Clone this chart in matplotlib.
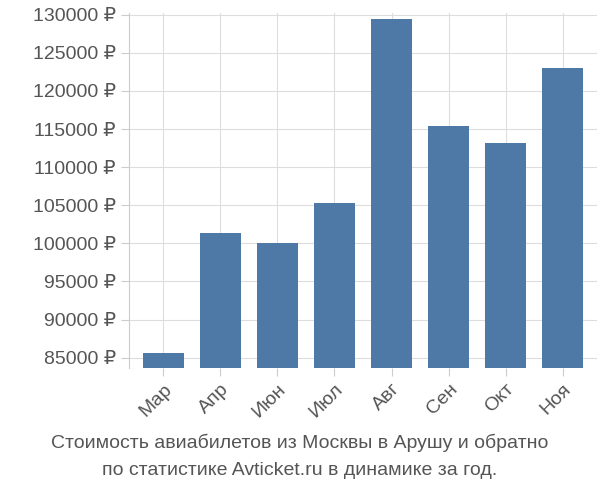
import matplotlib
matplotlib.use("Agg")
import matplotlib.pyplot as plt

months = ["Мар", "Апр", "Июн", "Июл", "Авг", "Сен", "Окт", "Ноя"]
prices = [85650, 101400, 100100, 105300, 129400, 115400, 113200, 123000]
yticks = list(range(85000, 130001, 5000))

plt.rcParams['font.family'] = ['Liberation Sans', 'DejaVu Sans']
fig = plt.figure(figsize=(6, 5), dpi=100)
ax = fig.add_axes([0.215, 0.265, 0.78, 0.71])
ax.bar(range(len(months)), prices, width=0.72, color="#4e79a7", zorder=2)
ax.set_ylim(83700, 130300)
ax.set_xlim(-0.6, len(months) - 0.4)
ax.set_yticks(yticks)
ax.set_yticklabels([f"{v} ₽" for v in yticks], fontsize=14, color="#555555")
ax.set_xticks(range(len(months)))
ax.set_xticklabels(months, rotation=45, ha="right", rotation_mode="anchor", fontsize=14, color="#555555")
ax.grid(True, color="#dddddd", zorder=0)
for s in ["top", "right", "bottom"]:
    ax.spines[s].set_visible(False)
ax.spines["left"].set_color("#cccccc")
ax.tick_params(colors="#cccccc", labelcolor="#555555", length=6)
fig.text(0.5, 0.105, "Стоимость авиабилетов из Москвы в Арушу и обратно", ha="center", fontsize=14, color="#555555")
fig.text(0.5, 0.05, "по статистике Avticket.ru в динамике за год.", ha="center", fontsize=14, color="#555555")
fig.savefig("out.png")
